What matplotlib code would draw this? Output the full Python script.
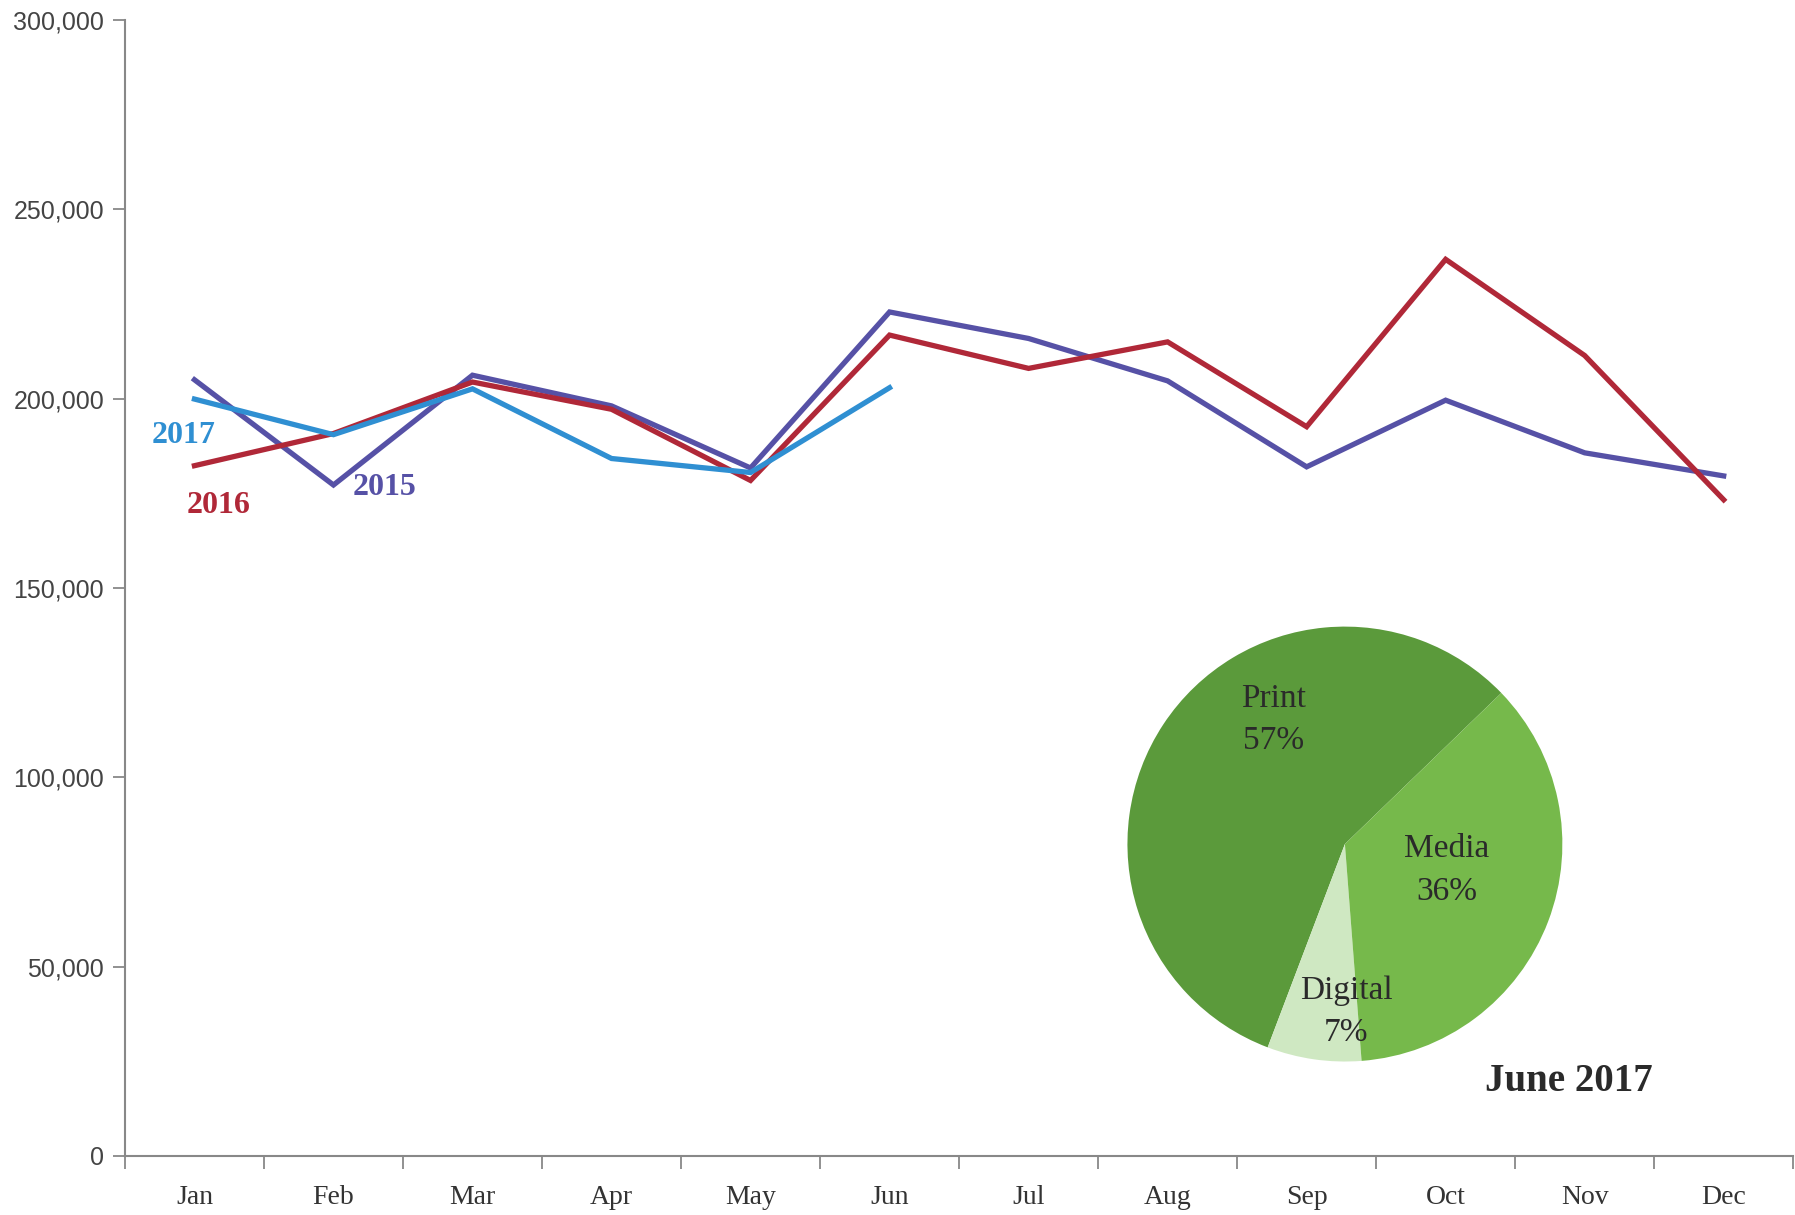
import numpy as np
import matplotlib
matplotlib.use("Agg")
import matplotlib.pyplot as plt
from matplotlib.ticker import FuncFormatter, FixedLocator

# data
months = ["Jan", "Feb", "Mar", "Apr", "May", "Jun", "Jul", "Aug", "Sep", "Oct", "Nov", "Dec"]
v2015 = [205000, 177200, 206200, 198100, 181700, 222900, 215900, 204700, 182000, 199600, 185700, 179600]
v2016 = [182300, 190800, 204400, 197200, 178400, 216800, 208000, 215000, 192600, 236800, 211400, 173300]
v2017 = [199900, 190500, 202600, 184200, 180500, 202900]

pie_labels = ["Print", "Digital", "Media"]
pie_pct = [57, 7, 36]

c2015 = "#5651a6"
c2016 = "#b02838"
c2017 = "#2f8fd2"
greens = ["#5b9a3b", "#cfe8c2", "#76b94b"]
serif = "Liberation Serif"

fig = plt.figure(figsize=(17.95, 12.15), dpi=100)
ax = fig.add_axes([0.0696, 0.0486, 0.9294, 0.9349])

x = np.arange(len(months))
ax.plot(x, v2015, color=c2015, lw=3.8, solid_joinstyle="miter")
ax.plot(x, v2016, color=c2016, lw=3.8, solid_joinstyle="miter")
ax.plot(x[:len(v2017)], v2017, color=c2017, lw=3.8, solid_joinstyle="miter")

ax.set_xlim(-0.5, 11.5)
ax.set_ylim(0, 300000)
ax.set_yticks(np.arange(0, 300001, 50000))
ax.yaxis.set_major_formatter(FuncFormatter(lambda v, p: f"{int(v):,}"))
ax.xaxis.set_major_locator(FixedLocator(np.arange(-0.5, 12, 1)))
ax.xaxis.set_minor_locator(FixedLocator(x))
ax.set_xticklabels([], minor=False)
ax.set_xticklabels(months, minor=True, fontfamily=serif, fontsize=20, color="#333333")
ax.tick_params(axis="x", which="major", length=9, width=1.3, color="#888888", direction="out")
ax.tick_params(axis="x", which="minor", length=0, pad=21)
ax.tick_params(axis="y", length=9, width=1.3, color="#888888", labelsize=18,
               labelcolor="#444444", pad=6)
for t in ax.get_yticklabels():
    t.set_fontfamily("Liberation Sans")
for s in ["top", "right"]:
    ax.spines[s].set_visible(False)
for s in ["left", "bottom"]:
    ax.spines[s].set_color("#888888")
    ax.spines[s].set_linewidth(1.5)

ax.text(-0.08, 190200, "2017", color=c2017, fontsize=23, fontweight="bold",
        fontfamily=serif, ha="center", va="center")
ax.text(0.17, 171800, "2016", color=c2016, fontsize=23, fontweight="bold",
        fontfamily=serif, ha="center", va="center")
ax.text(1.37, 176600, "2015", color=c2015, fontsize=23, fontweight="bold",
        fontfamily=serif, ha="center", va="center")

# inset pie
pax = fig.add_axes([0.6281, 0.1263, 0.2423, 0.358])
pax.pie(pie_pct, colors=greens, startangle=44, counterclock=True,
        wedgeprops=dict(linewidth=0))
pax.set_xlim(-1, 1)
pax.set_ylim(-1, 1)
pax.set_aspect("equal")
pos = [(-0.33, 0.57), (0.005, -0.77), (0.47, -0.12)]
for lab, pct, (px, py) in zip(pie_labels, pie_pct, pos):
    pax.text(px, py, f"{lab}\n{pct}%", ha="center", va="center", fontsize=24,
             fontfamily=serif, color="#2a2a2a", linespacing=1.5)
pax.text(1.03, -1.09, "June 2017", ha="center", va="center", fontsize=28,
         fontweight="bold", fontfamily=serif, color="#2a2a2a", clip_on=False)

fig.savefig("out.png", dpi=100)
